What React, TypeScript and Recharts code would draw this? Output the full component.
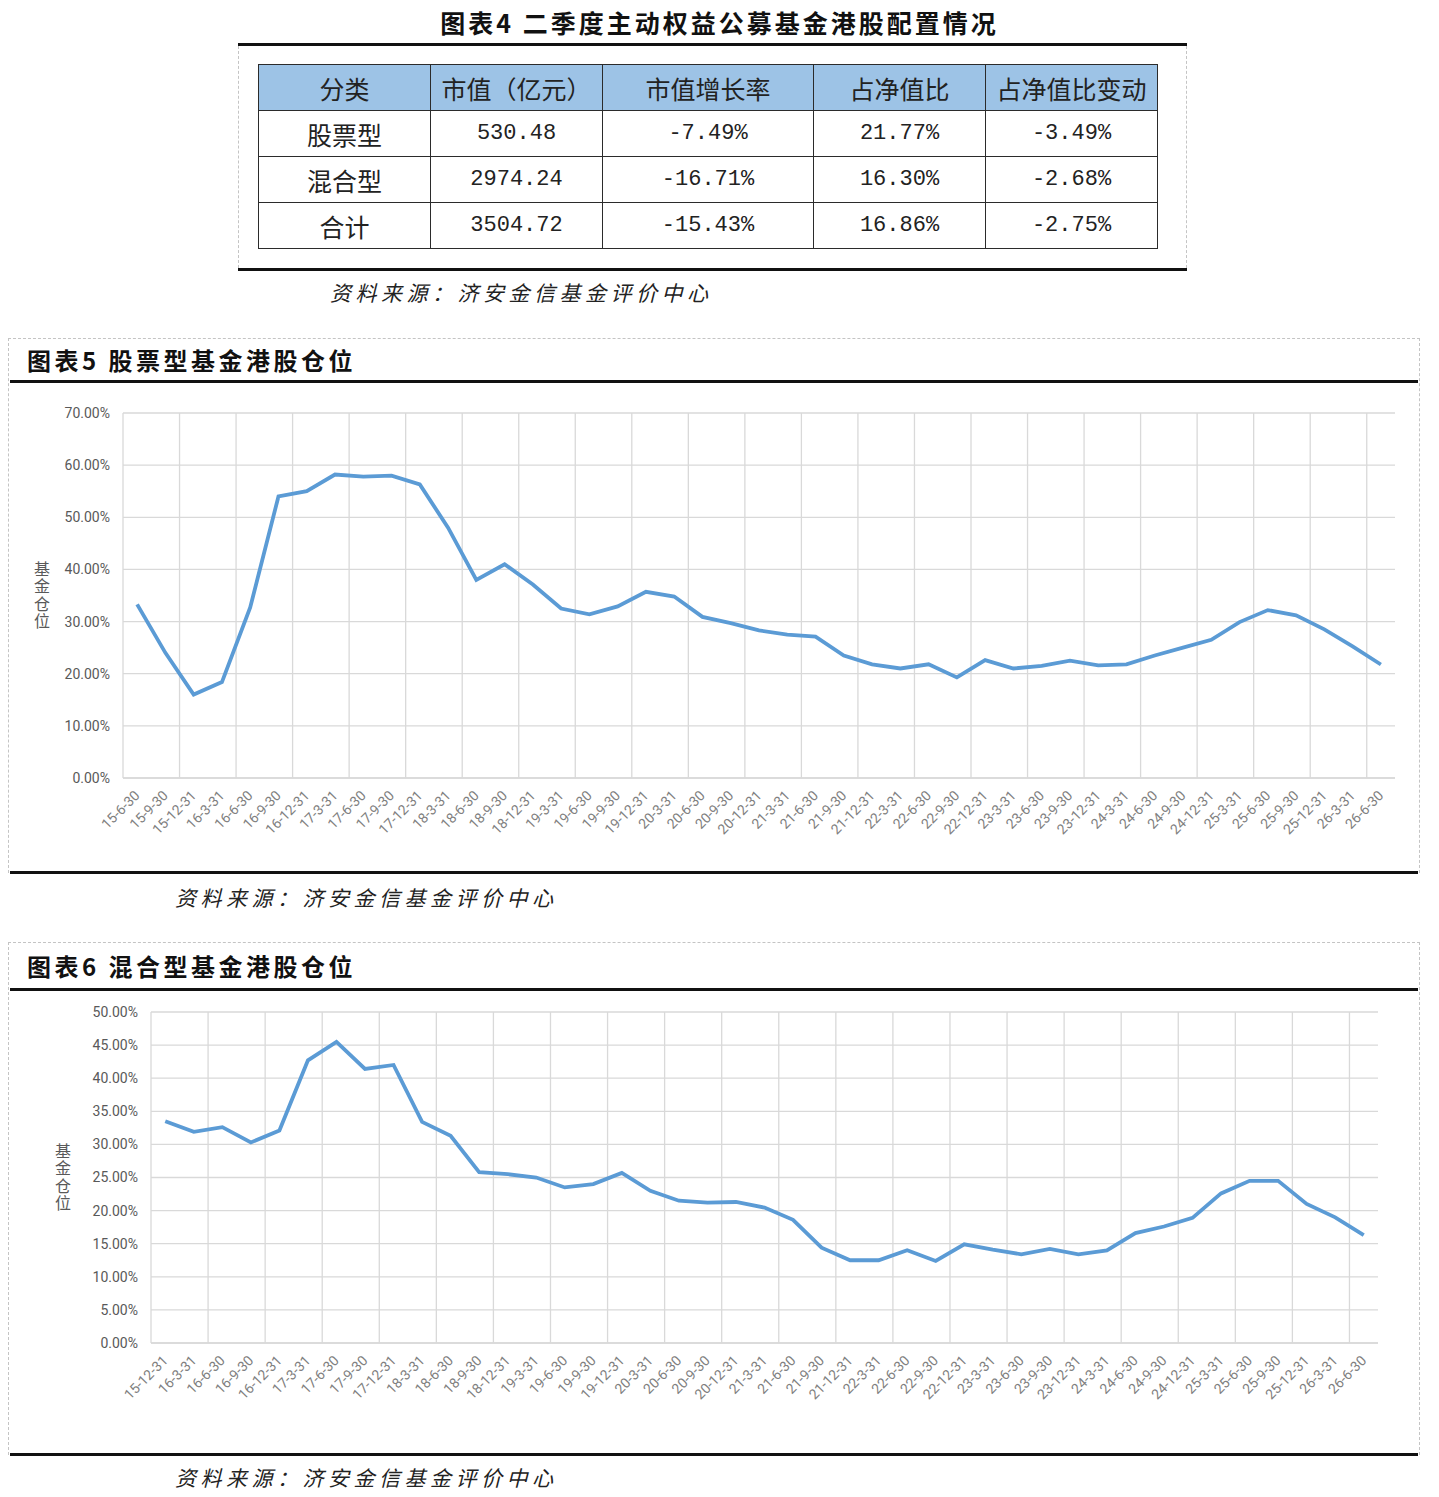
import React from 'react';
import { CartesianGrid, Label, Line, LineChart, XAxis, YAxis } from 'recharts';

// 表格数据
const tableHeaders = ['分类', '市值（亿元）', '市值增长率', '占净值比', '占净值比变动'];
const fundTypes = ['股票型', '混合型', '合计'];
const marketValues = ['530.48', '2974.24', '3504.72'];
const growthRates = ['-7.49%', '-16.71%', '-15.43%'];
const navRatios = ['21.77%', '16.30%', '16.86%'];
const navChanges = ['-3.49%', '-2.68%', '-2.75%'];

// 图表5 股票型基金港股仓位
const stockQuarters = [
  '15-6-30', '15-9-30', '15-12-31', '16-3-31', '16-6-30', '16-9-30', '16-12-31', '17-3-31', '17-6-30',
  '17-9-30', '17-12-31', '18-3-31', '18-6-30', '18-9-30', '18-12-31', '19-3-31', '19-6-30', '19-9-30',
  '19-12-31', '20-3-31', '20-6-30', '20-9-30', '20-12-31', '21-3-31', '21-6-30', '21-9-30', '21-12-31',
  '22-3-31', '22-6-30', '22-9-30', '22-12-31', '23-3-31', '23-6-30', '23-9-30', '23-12-31', '24-3-31',
  '24-6-30', '24-9-30', '24-12-31', '25-3-31', '25-6-30', '25-9-30', '25-12-31', '26-3-31', '26-6-30',
];
const stockPositions = [
  33.3, 24.0, 16.0, 18.4, 32.7, 54.0, 55.0, 58.2, 57.8,
  58.0, 56.3, 48.0, 38.0, 41.0, 37.1, 32.5, 31.4, 32.9,
  35.7, 34.8, 30.9, 29.7, 28.3, 27.5, 27.1, 23.5, 21.8,
  21.0, 21.8, 19.3, 22.6, 21.0, 21.5, 22.5, 21.6, 21.8,
  23.5, 25.0, 26.5, 29.9, 32.2, 31.2, 28.5, 25.26, 21.77,
];
const stockTicks = [0, 10, 20, 30, 40, 50, 60, 70];

// 图表6 混合型基金港股仓位
const mixedQuarters = [
  '15-12-31', '16-3-31', '16-6-30', '16-9-30', '16-12-31', '17-3-31', '17-6-30', '17-9-30', '17-12-31',
  '18-3-31', '18-6-30', '18-9-30', '18-12-31', '19-3-31', '19-6-30', '19-9-30', '19-12-31', '20-3-31',
  '20-6-30', '20-9-30', '20-12-31', '21-3-31', '21-6-30', '21-9-30', '21-12-31', '22-3-31', '22-6-30',
  '22-9-30', '22-12-31', '23-3-31', '23-6-30', '23-9-30', '23-12-31', '24-3-31', '24-6-30', '24-9-30',
  '24-12-31', '25-3-31', '25-6-30', '25-9-30', '25-12-31', '26-3-31', '26-6-30',
];
const mixedPositions = [
  33.5, 31.9, 32.6, 30.3, 32.1, 42.7, 45.5, 41.4, 42.0,
  33.4, 31.3, 25.8, 25.5, 25.0, 23.5, 24.0, 25.7, 23.0,
  21.5, 21.2, 21.3, 20.45, 18.6, 14.4, 12.5, 12.5, 14.0,
  12.4, 14.9, 14.1, 13.4, 14.2, 13.4, 14.0, 16.6, 17.6,
  18.9, 22.6, 24.5, 24.5, 21.0, 18.98, 16.3,
];
const mixedTicks = [0, 5, 10, 15, 20, 25, 30, 35, 40, 45, 50];

const sourceText = '资料来源：济安金信基金评价中心';
const cjk = '"Noto Sans CJK SC", sans-serif';

const AngledTick = (props: any) => {
  const { x, y, payload } = props;
  return (
    <g transform={`translate(${x},${y + 7})`}>
      <text textAnchor="end" dy="0.35em" transform="rotate(-45)" fill="#808080" fontSize={14} fontFamily="Roboto, sans-serif">
        {payload.value}
      </text>
    </g>
  );
};

// 竖排的坐标轴标题
const stackedLabel = (dx: number) => (props: any) => {
  const { viewBox } = props;
  const cx = viewBox.x + dx;
  const cy = viewBox.y + viewBox.height / 2;
  return (
    <text
      x={cx}
      y={cy}
      textAnchor="middle"
      fill="#595959"
      fontSize={16}
      fontFamily={cjk}
      style={{ writingMode: 'vertical-rl' }}
      letterSpacing={1.5}
    >
      基金仓位
    </text>
  );
};

interface PositionChartProps {
  categories: string[];
  values: number[];
  ticks: number[];
  left: number;
  top: number;
  width: number;
  height: number;
  margin: { top: number; right: number; bottom: number; left: number };
  yAxisWidth: number;
  xAxisHeight: number;
  labelX: number;
}

const PositionChart: React.FC<PositionChartProps> = ({
  categories, values, ticks, left, top, width, height, margin, yAxisWidth, xAxisHeight, labelX,
}) => {
  const data = categories.map((q, i) => ({ quarter: q, position: values[i] }));
  const plotW = width - yAxisWidth - margin.left - margin.right;
  const pad = plotW / categories.length / 2;
  const n = categories.length;
  // 竖向网格线画在每两个类别的分界处
  const boundaryLines = ({ offset }: any) => {
    const band = offset.width / n;
    const xs: number[] = [];
    for (let k = 0; k <= n; k += 2) xs.push(offset.left + k * band);
    return xs;
  };
  return (
    <div style={{ position: 'absolute', left, top }}>
      <LineChart width={width} height={height} data={data} margin={margin}>
        <CartesianGrid stroke="#d9d9d9" strokeWidth={1.3} verticalCoordinatesGenerator={boundaryLines} />
        <XAxis
          dataKey="quarter"
          interval={0}
          height={xAxisHeight}
          padding={{ left: pad, right: pad }}
          tick={<AngledTick />}
          tickLine={false}
          axisLine={{ stroke: '#d9d9d9', strokeWidth: 1.3 }}
        />
        <YAxis
          width={yAxisWidth}
          domain={[ticks[0], ticks[ticks.length - 1]]}
          ticks={ticks}
          tickFormatter={(v: number) => v.toFixed(2) + '%'}
          tick={{ fill: '#595959', fontSize: 14, fontFamily: 'Roboto, sans-serif' }}
          tickLine={false}
          axisLine={false}
          tickMargin={7}
        >
          <Label content={stackedLabel(labelX)} />
        </YAxis>
        <Line
          type="linear"
          dataKey="position"
          stroke="#5b9bd5"
          strokeWidth={3.8}
          dot={false}
          isAnimationActive={false}
        />
      </LineChart>
    </div>
  );
};

const abs = (left: number, top: number, extra: React.CSSProperties = {}): React.CSSProperties => ({
  position: 'absolute', left, top, ...extra,
});

const Source = ({ left, cy }: { left: number; cy: number }) => (
  <div style={abs(left, cy - 14, { fontFamily: cjk, fontStyle: 'italic', fontSize: 21, lineHeight: '28px', letterSpacing: 4.5, color: '#222', whiteSpace: 'nowrap' })}>
    {sourceText}
  </div>
);

const ChartTitle = ({ left, cy, text }: { left: number; cy: number; text: string }) => (
  <div style={abs(left, cy - 15, { fontFamily: cjk, fontWeight: 700, fontSize: 24, lineHeight: '30px', letterSpacing: 3.5, color: '#111', whiteSpace: 'nowrap' })}>
    {text}
  </div>
);

const Frame = ({ top, bottom, ruleY }: { top: number; bottom: number; ruleY: number }) => (
  <>
    <div style={abs(8, top, { width: 1412, height: bottom - top, boxSizing: 'border-box', borderTop: '1.5px dashed #c4c4c4', borderLeft: '1.5px dashed #c4c4c4', borderRight: '1.5px dashed #c4c4c4' })} />
    <div style={abs(10, ruleY, { width: 1408, height: 3, background: '#111' })} />
    <div style={abs(10, bottom - 2, { width: 1408, height: 3, background: '#111' })} />
  </>
);

const cellBase: React.CSSProperties = {
  border: '1.5px solid #2b2b2b',
  textAlign: 'center',
  padding: 0,
  height: 45,
  color: '#222',
};

export default function App() {
  const rows = fundTypes.map((t, i) => [t, marketValues[i], growthRates[i], navRatios[i], navChanges[i]]);
  const colWidths = [172, 172, 211, 172, 172];
  return (
    <div style={{ position: 'absolute', left: 0, top: 0, width: 1439, height: 1497, background: '#fff', overflow: 'hidden' }}>
      {/* 图表4 表格 */}
      <div style={abs(0, 7, { width: 1439, textAlign: 'center', fontFamily: cjk, fontWeight: 700, fontSize: 25, lineHeight: '30px', letterSpacing: 3, color: '#111' })}>
        图表4 二季度主动权益公募基金港股配置情况
      </div>
      <div style={abs(238, 43, { width: 949, height: 3, background: '#111' })} />
      <div style={abs(238, 46, { width: 949, height: 222, boxSizing: 'border-box', borderLeft: '1.5px dashed #c4c4c4', borderRight: '1.5px dashed #c4c4c4' })} />
      <div style={abs(238, 268, { width: 949, height: 3, background: '#111' })} />
      <table style={abs(258, 64, { borderCollapse: 'collapse', width: 899, tableLayout: 'fixed' })}>
        <colgroup>
          {colWidths.map((w, i) => <col key={i} style={{ width: w }} />)}
        </colgroup>
        <thead>
          <tr>
            {tableHeaders.map((h, i) => (
              <th key={i} style={{ ...cellBase, background: '#9dc3e6', fontWeight: 400, fontFamily: cjk, fontSize: 25, whiteSpace: 'nowrap' }}>{h}</th>
            ))}
          </tr>
        </thead>
        <tbody>
          {rows.map((r, i) => (
            <tr key={i}>
              {r.map((c, j) => (
                <td key={j} style={{ ...cellBase, fontFamily: j === 0 ? cjk : '"Liberation Mono", monospace', fontSize: j === 0 ? 25 : 22 }}>{c}</td>
              ))}
            </tr>
          ))}
        </tbody>
      </table>
      <Source left={330} cy={292} />

      {/* 图表5 */}
      <Frame top={338} bottom={873} ruleY={380} />
      <ChartTitle left={27} cy={360} text="图表5 股票型基金港股仓位" />
      <PositionChart
        categories={stockQuarters}
        values={stockPositions}
        ticks={stockTicks}
        left={10}
        top={392}
        width={1408}
        height={475}
        margin={{ top: 21, right: 23, bottom: 29, left: 0 }}
        yAxisWidth={113}
        xAxisHeight={60}
        labelX={32}
      />
      <Source left={175} cy={897} />

      {/* 图表6 */}
      <Frame top={942} bottom={1455} ruleY={988} />
      <ChartTitle left={27} cy={966} text="图表6 混合型基金港股仓位" />
      <PositionChart
        categories={mixedQuarters}
        values={mixedPositions}
        ticks={mixedTicks}
        left={10}
        top={992}
        width={1408}
        height={455}
        margin={{ top: 20, right: 40, bottom: 34, left: 0 }}
        yAxisWidth={141}
        xAxisHeight={70}
        labelX={53}
      />
      <Source left={175} cy={1477} />
    </div>
  );
}
